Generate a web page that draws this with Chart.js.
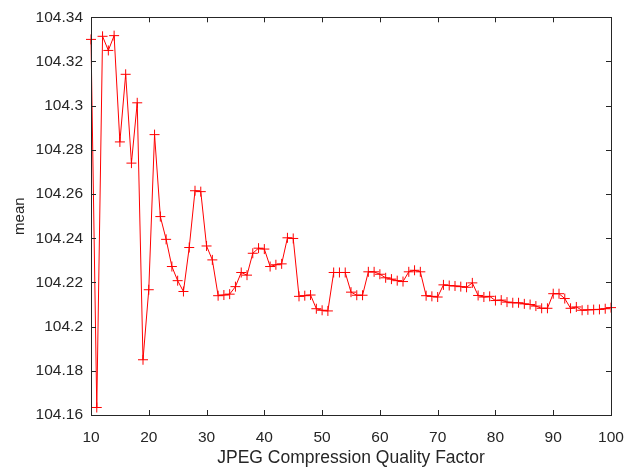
<!DOCTYPE html>
<html>
<head>
<meta charset="utf-8">
<script src="https://cdn.jsdelivr.net/npm/chart.js@4/dist/chart.umd.min.js"></script>
<style>
  html, body { margin: 0; padding: 0; background: #fff; }
  #wrap { width: 639px; height: 472px; }
</style>
</head>
<body>
<div id="wrap"><canvas id="meanChart"></canvas></div>
<script>
// Quality factors (x) and mean values (y)
const qualityFactors = [
  10, 11, 12, 13, 14, 15, 16, 17, 18, 19,
  20, 21, 22, 23, 24, 25, 26, 27, 28, 29,
  30, 31, 32, 33, 34, 35, 36, 37, 38, 39,
  40, 41, 42, 43, 44, 45, 46, 47, 48, 49,
  50, 51, 52, 53, 54, 55, 56, 57, 58, 59,
  60, 61, 62, 63, 64, 65, 66, 67, 68, 69,
  70, 71, 72, 73, 74, 75, 76, 77, 78, 79,
  80, 81, 82, 83, 84, 85, 86, 87, 88, 89,
  90, 91, 92, 93, 94, 95, 96, 97, 98, 99,
  100
];
const meanValues = [
  104.3300, 104.1634, 104.3314, 104.3250, 104.3317, 104.2836, 104.3142, 104.2740, 104.3013, 104.1850,
  104.2167, 104.2869, 104.2498, 104.2395, 104.2272, 104.2208, 104.2159, 104.2358, 104.2615, 104.2611,
  104.2365, 104.2302, 104.2140, 104.2143, 104.2147, 104.2181, 104.2245, 104.2233, 104.2332, 104.2355,
  104.2351, 104.2272, 104.2280, 104.2284, 104.2402, 104.2399, 104.2137, 104.2140, 104.2143, 104.2081,
  104.2074, 104.2071, 104.2245, 104.2245, 104.2245, 104.2156, 104.2142, 104.2142, 104.2248, 104.2248,
  104.2237, 104.2221, 104.2215, 104.2208, 104.2204, 104.2248, 104.2255, 104.2248, 104.2140, 104.2137,
  104.2134, 104.2189, 104.2186, 104.2184, 104.2181, 104.2178, 104.2198, 104.2141, 104.2134, 104.2137,
  104.2118, 104.2120, 104.2111, 104.2108, 104.2108, 104.2103, 104.2100, 104.2093, 104.2083, 104.2083,
  104.2149, 104.2149, 104.2127, 104.2083, 104.2089, 104.2074, 104.2076, 104.2077, 104.2078, 104.2081,
  104.2086
];
const xTicks = [10, 20, 30, 40, 50, 60, 70, 80, 90, 100];
const yTicks = [104.16, 104.18, 104.2, 104.22, 104.24, 104.26, 104.28, 104.3, 104.32, 104.34];

const axisColor = '#262626';
const fontFamily = '"Liberation Sans", Arial, Helvetica, sans-serif';

// Box around the plot with inward ticks on all four sides
const boxTicks = {
  id: 'boxTicks',
  afterDraw(chart) {
    const ctx = chart.ctx;
    const area = chart.chartArea;
    const xs = chart.scales.x;
    const ys = chart.scales.y;
    const len = 5;
    ctx.save();
    ctx.strokeStyle = axisColor;
    ctx.lineWidth = 1;
    ctx.beginPath();
    xTicks.forEach(v => {
      const px = Math.round(xs.getPixelForValue(v)) + 0.5;
      ctx.moveTo(px, area.bottom);
      ctx.lineTo(px, area.bottom - len);
      ctx.moveTo(px, area.top);
      ctx.lineTo(px, area.top + len);
    });
    yTicks.forEach(v => {
      const py = Math.round(ys.getPixelForValue(v)) + 0.5;
      ctx.moveTo(area.left, py);
      ctx.lineTo(area.left + len, py);
      ctx.moveTo(area.right, py);
      ctx.lineTo(area.right - len, py);
    });
    ctx.stroke();
    ctx.strokeRect(Math.round(area.left) + 0.5, Math.round(area.top) + 0.5,
      Math.round(area.right - area.left), Math.round(area.bottom - area.top));
    ctx.restore();
  }
};

const ctx = document.getElementById('meanChart').getContext('2d');
new Chart(ctx, {
  type: 'line',
  data: {
    datasets: [{
      label: 'mean',
      data: qualityFactors.map((q, i) => ({ x: q, y: meanValues[i] })),
      borderColor: '#ff0000',
      borderWidth: 1,
      pointStyle: 'cross',
      pointRadius: 5,
      pointBorderColor: '#ff0000',
      pointBorderWidth: 1,
      pointHoverRadius: 5,
      tension: 0,
      fill: false,
      clip: false
    }]
  },
  options: {
    responsive: true,
    maintainAspectRatio: false,
    animation: false,
    layout: { padding: { top: 7, right: 28, left: 0, bottom: 0 } },
    plugins: {
      legend: { display: false },
      tooltip: { enabled: false }
    },
    scales: {
      x: {
        type: 'linear',
        min: 10,
        max: 100,
        afterFit: scale => { scale.height = 57; },
        afterBuildTicks: scale => { scale.ticks = xTicks.map(v => ({ value: v })); },
        grid: { display: false, drawTicks: false },
        border: { display: false },
        ticks: {
          color: axisColor,
          padding: 13,
          maxRotation: 0,
          font: { family: fontFamily, size: 15.5 }
        },
        title: {
          display: true,
          text: 'JPEG Compression Quality Factor',
          color: axisColor,
          padding: { top: 0, bottom: 3 },
          font: { family: fontFamily, size: 17.5 }
        }
      },
      y: {
        type: 'linear',
        min: 104.16,
        max: 104.34,
        afterFit: scale => { scale.width = 91; },
        afterBuildTicks: scale => { scale.ticks = yTicks.map(v => ({ value: v })); },
        grid: { display: false, drawTicks: false },
        border: { display: false },
        ticks: {
          color: axisColor,
          padding: 8,
          font: { family: fontFamily, size: 15.5 },
          callback: v => String(Number(v.toFixed(2)))
        },
        title: {
          display: true,
          text: 'mean',
          color: axisColor,
          padding: { top: 11, bottom: 0 },
          font: { family: fontFamily, size: 15 }
        }
      }
    }
  },
  plugins: [boxTicks]
});
</script>
</body>
</html>
